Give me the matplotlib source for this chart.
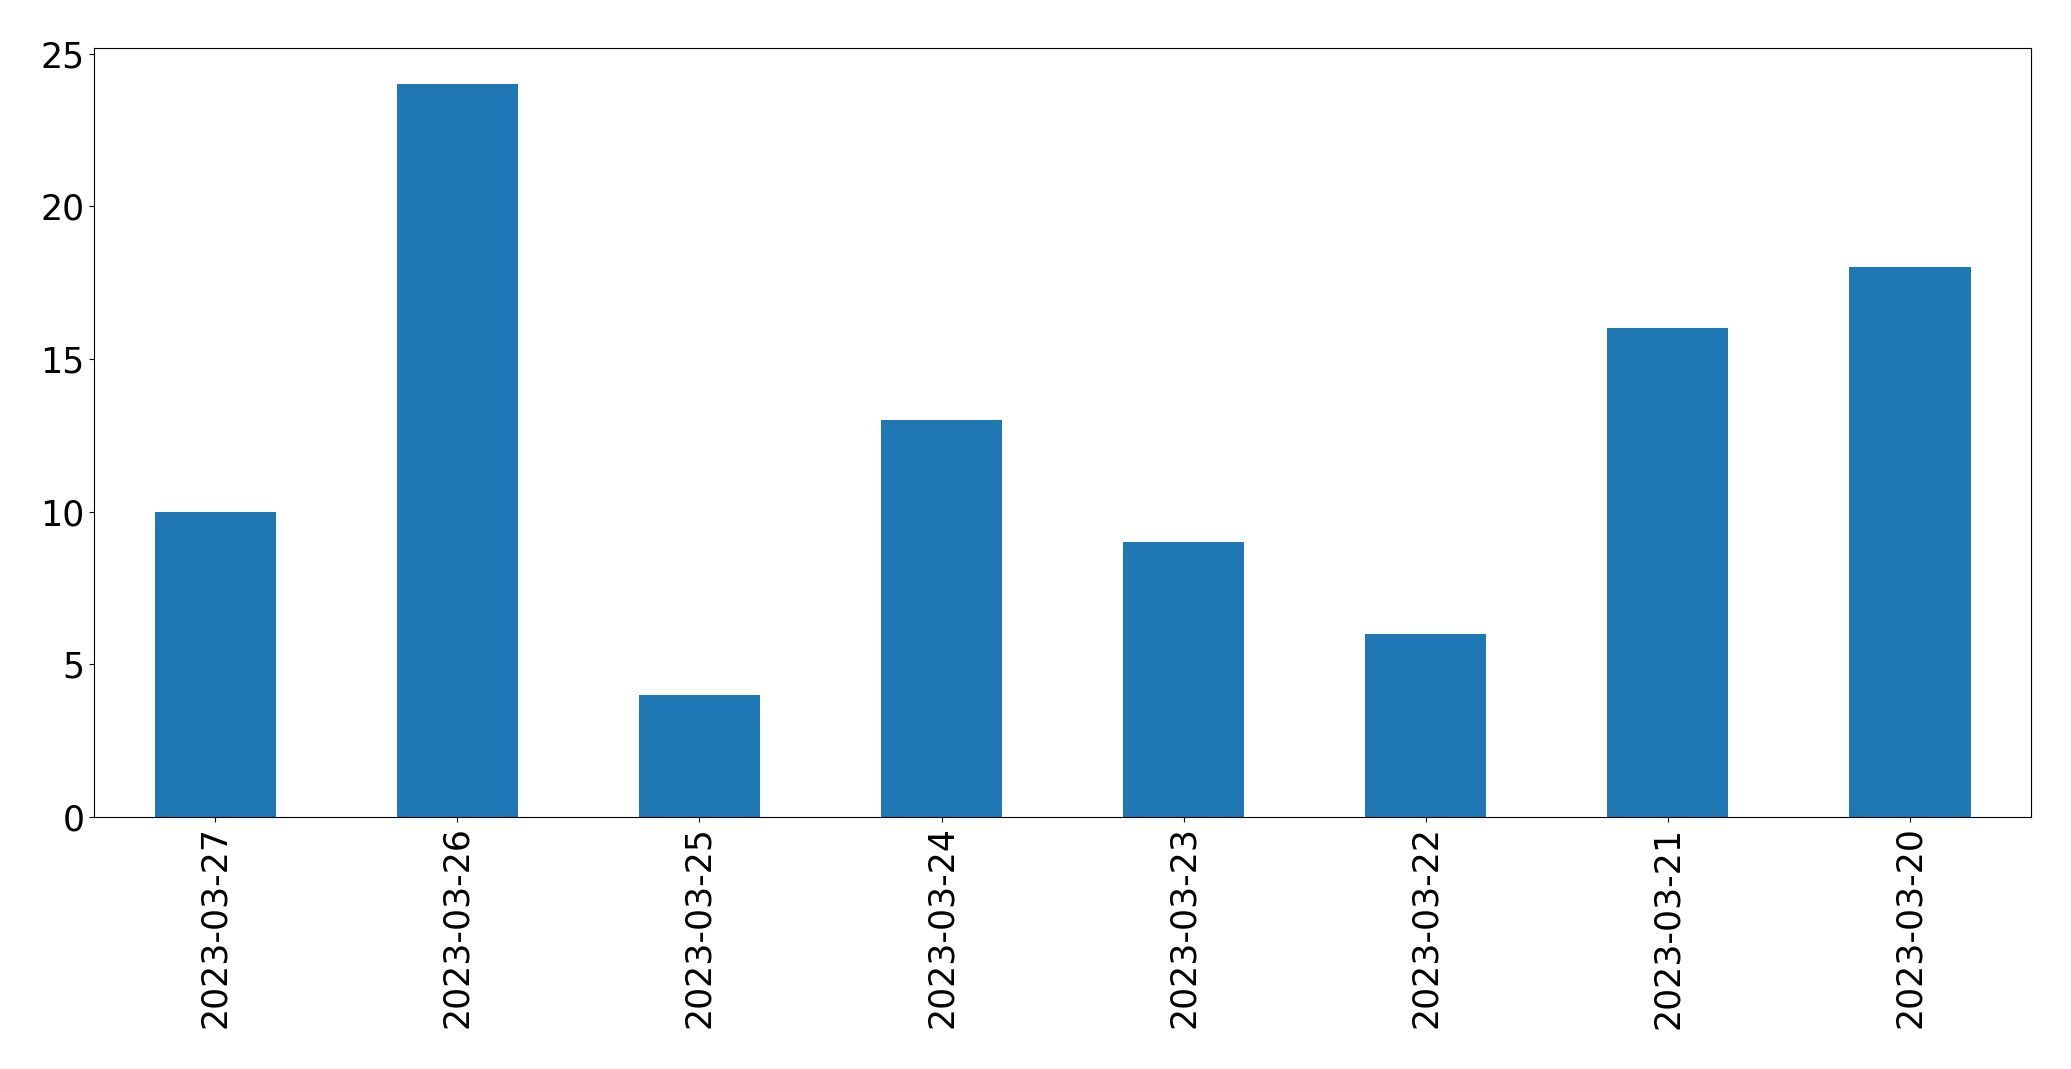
import matplotlib
matplotlib.use('Agg')
import numpy as np
import matplotlib.pyplot as plt

dates = ['2023-03-27', '2023-03-26', '2023-03-25', '2023-03-24',
         '2023-03-23', '2023-03-22', '2023-03-21', '2023-03-20']
counts = [10, 24, 4, 13, 9, 6, 16, 18]

fig = plt.figure(figsize=(20.71, 10.69), dpi=100)
ax = fig.add_axes([0.0455, 0.2360, 0.9352, 0.7194])

x = np.arange(len(dates))
ax.bar(x, counts, width=0.5, color='#1f77b4')
ax.set_xlim(-0.5, len(dates) - 0.5)
ax.set_xticks(x)
ax.set_xticklabels(dates, rotation=90)
ax.tick_params(labelsize=25)

fig.savefig('out.png', dpi=100)
